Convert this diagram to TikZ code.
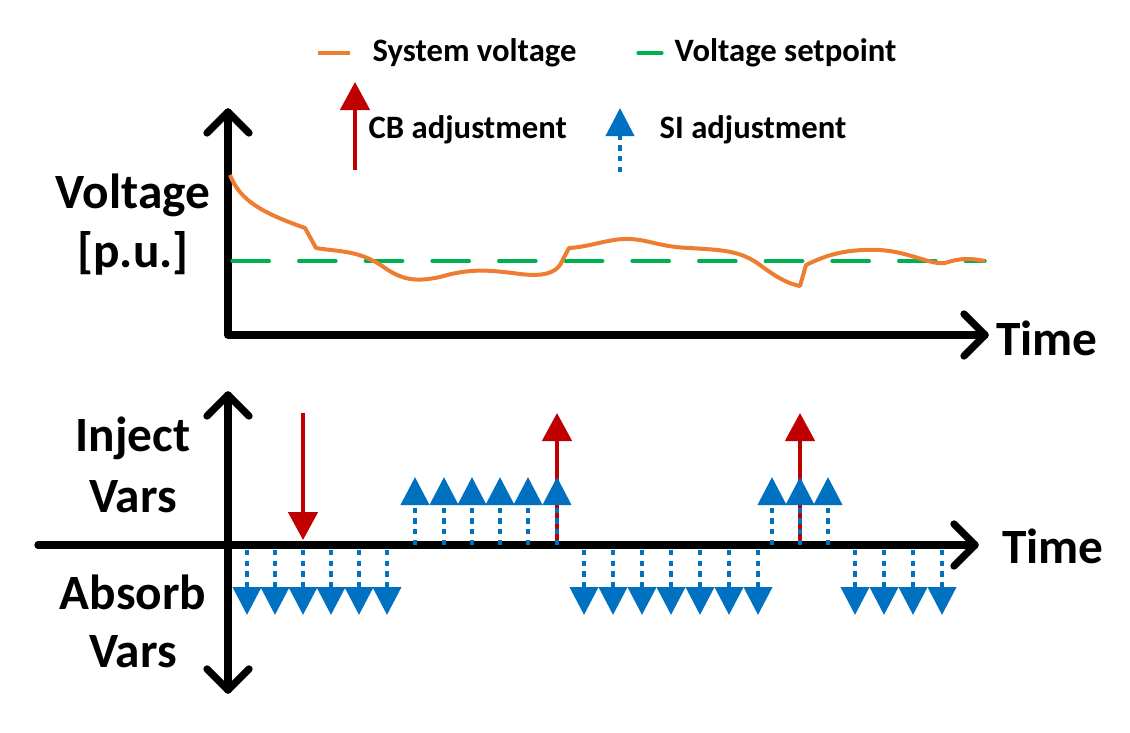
\documentclass[tikz,border=0pt]{standalone}
\usepackage{fontspec}
\setmainfont{Carlito}
\usetikzlibrary{arrows.meta}
\definecolor{vorange}{HTML}{ED7D31}
\definecolor{vgreen}{HTML}{00B050}
\definecolor{vred}{HTML}{C00000}
\definecolor{vblue}{HTML}{0070C0}
\begin{document}
\begin{tikzpicture}[x=0.75pt,y=-0.75pt,
  axis/.style={line width=5.5pt,line cap=round,line join=round},
  chev/.style={line width=5.5pt,line cap=round,line join=round},
  big/.style={font=\bfseries\fontsize{37}{42}\selectfont},
  leg/.style={font=\bfseries\fontsize{24.5}{28}\selectfont,anchor=west},
  cb/.style={vred,line width=2.8pt,-{Triangle[width=22pt,length=21pt]}},
  si/.style={vblue,line width=3pt,dash pattern=on 4pt off 4pt,-{Triangle[width=21pt,length=21pt]}}]
\useasboundingbox (0,0) rectangle (1130,732);
% top axes
\coordinate (o1) at (228,335);
\coordinate (ty) at (228,112);
\coordinate (tx) at (985,335);
\draw[axis] (ty) -- (o1) -- (tx);
\draw[chev] (207,133) -- (ty) -- (249,133);
\draw[chev] (964,314) -- (tx) -- (964,356);
\node[big] (t1) at (1047,338) {Time};
\node[big] (vl) at (133,195) {Voltage};
\node[big] (pu) at (133,253) {[p.u.]};
% setpoint and voltage
\coordinate (s0) at (232,261); \coordinate (s1) at (985,261);
\draw[vgreen,line width=2.5pt,line cap=round,dash pattern=on 28pt off 22pt] (s0) -- (s1);
\draw[vorange,line width=3pt,line join=round] (230,175) .. controls (240,200) and (260,212) .. (305,228) -- (316,248)
 .. controls (340,252) and (360,250) .. (385,268) .. controls (405,282) and (420,281) .. (440,277)
 .. controls (470,268) and (490,270) .. (520,274) .. controls (545,277) and (555,272) .. (560,265) -- (569,248)
 .. controls (590,247) and (610,238) .. (630,239) .. controls (650,240) and (660,247) .. (690,248)
 .. controls (720,250) and (740,250) .. (760,265) .. controls (780,280) and (790,284) .. (800,286) -- (806,265)
 .. controls (830,253) and (850,249) .. (880,250) .. controls (910,252) and (930,265) .. (945,263)
 .. controls (960,258) and (970,258) .. (985,261);
% legend
\coordinate (lo0) at (318,53); \coordinate (lo1) at (350,53);
\draw[vorange,line width=3pt] (lo0) -- (lo1);
\node[leg] (lt1) at (368,53) {System voltage};
\coordinate (lg0) at (638,53); \coordinate (lg1) at (662,53);
\draw[vgreen,line width=2.5pt,line cap=round] (lg0) -- (lg1);
\node[leg] (lt2) at (670,53) {Voltage setpoint};
\coordinate (lc0) at (355,170); \coordinate (lc1) at (355,82);
\draw[cb] (lc0) -- (lc1);
\node[leg] (lt3) at (364,130) {CB adjustment};
\coordinate (ls0) at (620,172); \coordinate (ls1) at (620,108);
\draw[si] (ls0) -- (ls1);
\node[leg] (lt4) at (655,130) {SI adjustment};
% bottom axes
\coordinate (by0) at (228,690); \coordinate (by1) at (228,395);
\coordinate (bx0) at (38,545); \coordinate (bx1) at (975,545);
\draw[axis] (by0) -- (by1);
\draw[axis] (bx0) -- (bx1);
\draw[chev] (207,416) -- (by1) -- (249,416);
\draw[chev] (207,669) -- (by0) -- (249,669);
\draw[chev] (954,524) -- (bx1) -- (954,566);
\node[big] (t2) at (1053,546) {Time};
\node[big] (ij) at (133,438) {Inject};
\node[big] (v1) at (133,497) {Vars};
\node[big] (ab) at (133,592) {Absorb};
\node[big] (v2) at (133,652) {Vars};
% SI arrows
\foreach \x in {415,444,472,500,528}{\draw[si] (\x,545) -- (\x,477);}
\foreach \x in {772,828}{\draw[si] (\x,545) -- (\x,477);}
\foreach \x in {247,275,303,331,359,387,584,613,642,671,700,729,758,855,884,913,942}{\draw[si] (\x,550) -- (\x,615);}
% CB arrows
\draw[cb] (303,413) -- (303,540);
\draw[cb] (557,540) -- (557,413);
\draw[cb] (800,540) -- (800,413);
\draw[si] (557,545) -- (557,477);
\draw[si] (800,545) -- (800,477);
\end{tikzpicture}
\end{document}
